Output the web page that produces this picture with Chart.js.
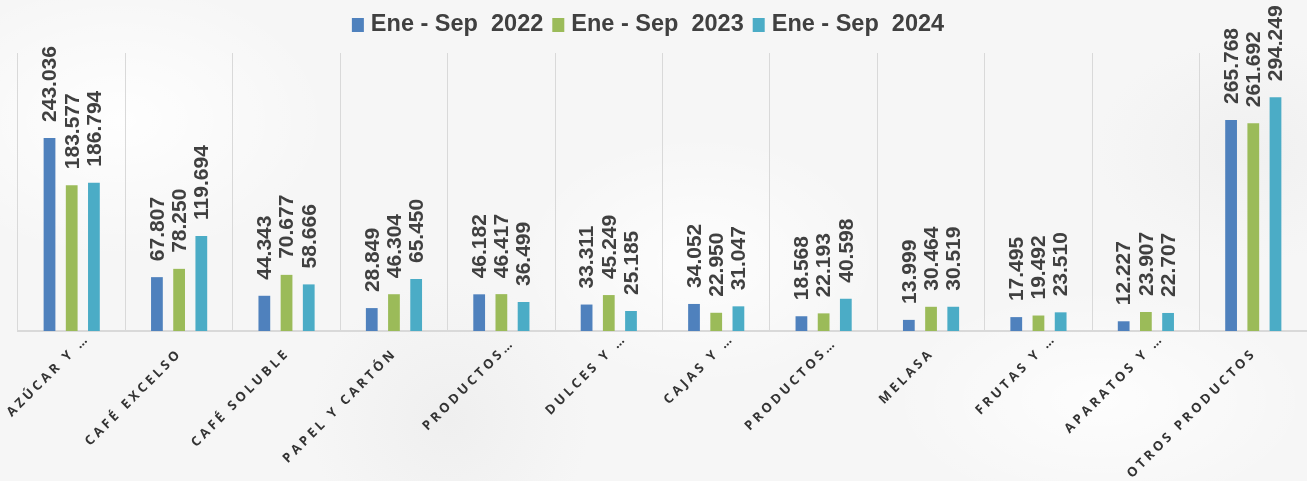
<!DOCTYPE html>
<html>
<head>
<meta charset="utf-8">
<script src="https://cdn.jsdelivr.net/npm/chart.js@4/dist/chart.umd.min.js"></script>
<style>
html,body{margin:0;padding:0;width:1307px;height:481px;overflow:hidden;}
body{
  background:
    radial-gradient(ellipse 300px 200px at 120px 120px, rgba(255,255,255,0.9), rgba(255,255,255,0) 70%),
    radial-gradient(ellipse 260px 180px at 700px 260px, rgba(255,255,255,0.8), rgba(255,255,255,0) 70%),
    radial-gradient(ellipse 300px 160px at 1100px 400px, rgba(255,255,255,0.8), rgba(255,255,255,0) 70%),
    radial-gradient(ellipse 200px 200px at 450px 420px, rgba(232,232,232,0.5), rgba(232,232,232,0) 70%),
    radial-gradient(ellipse 220px 160px at 1250px 150px, rgba(234,234,234,0.5), rgba(234,234,234,0) 70%),
    #f6f6f6;
}
#wrap{position:absolute;left:0;top:0;width:1307px;height:481px;}
</style>
</head>
<body>
<div id="wrap"><canvas id="c"></canvas></div>
<script>
const categories = ["AZÚCAR Y …", "CAFÉ EXCELSO", "CAFÉ SOLUBLE", "PAPEL Y CARTÓN", "PRODUCTOS…", "DULCES Y …", "CAJAS Y …", "PRODUCTOS…", "MELASA", "FRUTAS Y …", "APARATOS Y …", "OTROS PRODUCTOS"];
const seriesNames = ["Ene - Sep  2022", "Ene - Sep  2023", "Ene - Sep  2024"];
const values2022 = [243036, 67807, 44343, 28849, 46182, 33311, 34052, 18568, 13999, 17495, 12227, 265768];
const values2023 = [183577, 78250, 70677, 46304, 46417, 45249, 22950, 22193, 30464, 19492, 23907, 261692];
const values2024 = [186794, 119694, 58666, 65450, 36499, 25185, 31047, 40598, 30519, 23510, 22707, 294249];
const colors = ["#4f81bd", "#9bbb59", "#4bacc6"];

function fmt(v){
  const s = String(Math.round(v));
  return s.replace(/\B(?=(\d{3})+(?!\d))/g, ".");
}

const valueLabels = {
  id: 'valueLabels',
  afterDatasetsDraw(chart){
    const ctx = chart.ctx;
    ctx.save();
    ctx.fillStyle = '#404040';
    ctx.font = 'bold 21px "Liberation Sans", Arial, sans-serif';
    ctx.textAlign = 'left';
    ctx.textBaseline = 'middle';
    chart.data.datasets.forEach((ds, di) => {
      const meta = chart.getDatasetMeta(di);
      meta.data.forEach((el, i) => {
        ctx.save();
        ctx.translate(el.x + 1, el.y - 16);
        ctx.rotate(-Math.PI / 2);
        ctx.fillText(fmt(ds.data[i]), 0, 0);
        ctx.restore();
      });
    });
    ctx.restore();
  }
};

const xLabels = {
  id: 'xLabels',
  afterDraw(chart){
    const ctx = chart.ctx;
    const xs = chart.scales.x;
    ctx.save();
    ctx.fillStyle = '#333333';
    ctx.font = 'bold 13px "Open Sans", sans-serif';
    if ('letterSpacing' in ctx) ctx.letterSpacing = '3.3px';
    ctx.textAlign = 'right';
    ctx.textBaseline = 'middle';
    categories.forEach((lab, i) => {
      const x = xs.getPixelForValue(i);
      let shift = 0;
      const m = lab.match(/ ?…$/);
      if (m) shift = ctx.measureText(m[0]).width;
      ctx.save();
      ctx.translate(x + 1, chart.chartArea.bottom + 20);
      ctx.rotate(-Math.PI / 4);
      ctx.fillText(lab, shift, 0);
      ctx.restore();
    });
    ctx.restore();
  }
};

const customLegend = {
  id: 'customLegend',
  afterDraw(chart){
    const ctx = chart.ctx;
    const ds = chart.data.datasets;
    ctx.save();
    ctx.font = 'bold 23.5px "Liberation Sans", Arial, sans-serif';
    ctx.textBaseline = 'middle';
    ctx.textAlign = 'left';
    const box = 12, gapBox = 7, gapItem = 9;
    const widths = ds.map(d => box + gapBox + ctx.measureText(d.label).width);
    const total = widths.reduce((a, b) => a + b, 0) + gapItem * (ds.length - 1);
    let x = 648 - total / 2;
    const cy = 25;
    ds.forEach((d, i) => {
      ctx.fillStyle = d.backgroundColor;
      ctx.fillRect(x, cy - 7, box, 14);
      ctx.fillStyle = '#404040';
      ctx.fillText(d.label, x + box + gapBox, cy);
      x += widths[i] + gapItem;
    });
    ctx.restore();
  }
};

new Chart(document.getElementById('c'), {
  type: 'bar',
  data: {
    labels: categories,
    datasets: [
      {label: seriesNames[0], data: values2022, backgroundColor: colors[0]},
      {label: seriesNames[1], data: values2023, backgroundColor: colors[1]},
      {label: seriesNames[2], data: values2024, backgroundColor: colors[2]}
    ]
  },
  options: {
    responsive: true,
    maintainAspectRatio: false,
    animation: false,
    devicePixelRatio: 1,
    layout: {padding: {left: 18, right: 0, top: 53, bottom: 150}},
    datasets: {bar: {categoryPercentage: 0.62, barPercentage: 0.53}},
    plugins: {
      legend: {display: false},
      tooltip: {enabled: false}
    },
    scales: {
      x: {
        grid: {display: true, offset: true, color: '#d9d9d9', lineWidth: 1, drawTicks: false},
        border: {display: true, color: '#d9d9d9', width: 2},
        ticks: {display: false}
      },
      y: {display: false, min: 0, max: 350000}
    }
  },
  plugins: [valueLabels, xLabels, customLegend]
});
</script>
</body>
</html>
